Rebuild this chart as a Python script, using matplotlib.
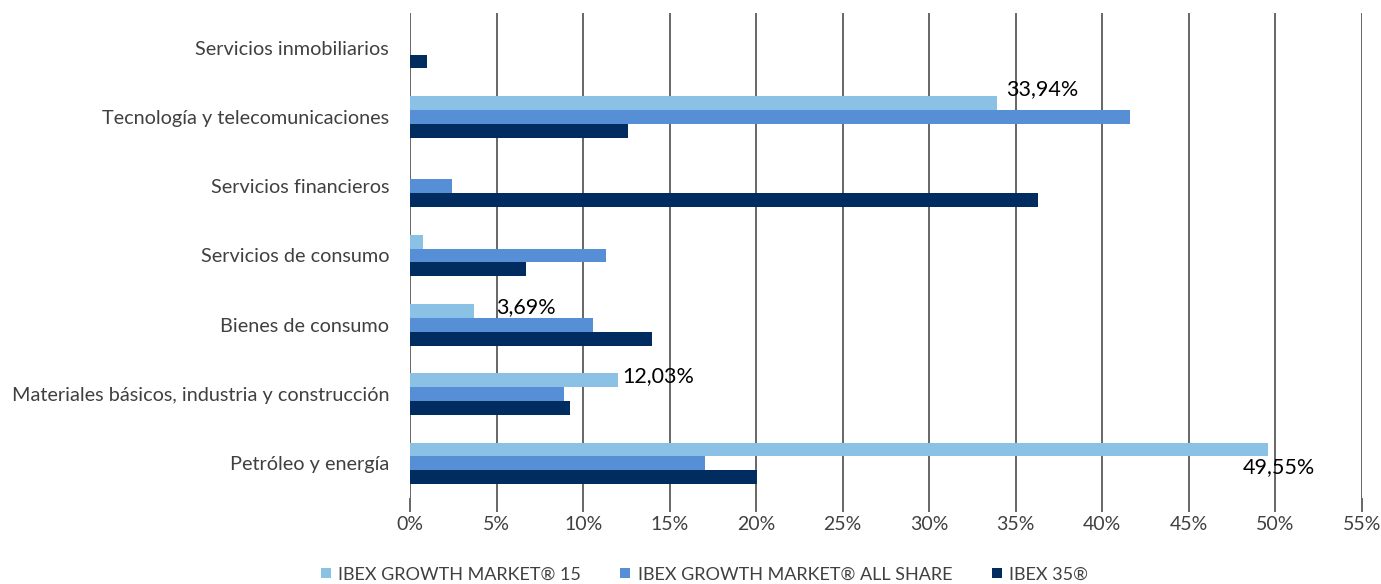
import matplotlib.pyplot as plt
import numpy as np

plt.rcParams['font.family'] = ['Lato', 'DejaVu Sans']

# DATA (bottom to top, as drawn)
categories = ["Petróleo y energía",
              "Materiales básicos, industria y construcción",
              "Bienes de consumo",
              "Servicios de consumo",
              "Servicios financieros",
              "Tecnología y telecomunicaciones",
              "Servicios inmobiliarios"]
growth15  = [49.55, 12.03, 3.69, 0.75, 0.0, 33.94, 0.0]
allshare  = [17.05, 8.9, 10.6, 11.3, 2.4, 41.6, 0.0]
ibex35    = [20.05, 9.25, 14.0, 6.7, 36.3, 12.6, 1.0]
series_names = ["IBEX GROWTH MARKET® 15", "IBEX GROWTH MARKET® ALL SHARE", "IBEX 35®"]
xticks = [0, 5, 10, 15, 20, 25, 30, 35, 40, 45, 50, 55]

c_light = '#8BC1E5'
c_mid = '#568FD6'
c_dark = '#002C5F'
grid_c = '#5A5A5A'
txt_c = '#404040'

fig = plt.figure(figsize=(13.81, 5.84), dpi=100)
ax = fig.add_axes([0.2969, 0.1473, 0.6893, 0.8304])

y = np.arange(len(categories))
h = 0.2
b1 = ax.barh(y + h, growth15, height=h, color=c_light, label=series_names[0], zorder=3)
b2 = ax.barh(y, allshare, height=h, color=c_mid, label=series_names[1], zorder=3)
b3 = ax.barh(y - h, ibex35, height=h, color=c_dark, label=series_names[2], zorder=3)

ax.set_xlim(0, 55)
ax.set_ylim(-0.5, len(categories) - 0.5)
ax.set_xticks(xticks)
ax.set_xticklabels([f"{t}%" for t in xticks])
ax.set_yticks(y)
ax.set_yticklabels(categories)

ax.grid(axis='x', color=grid_c, linewidth=1.3, zorder=0)
for s in ax.spines.values():
    s.set_visible(False)
ax.tick_params(axis='x', direction='out', length=10, width=1.3, color=grid_c,
               labelsize=14, labelcolor=txt_c, pad=3)
ax.tick_params(axis='y', length=0, labelsize=14.3, labelcolor=txt_c, pad=15)

# data labels for the GROWTH 15 series (manually placed as in the original)
def lab(i, dx, dy, ha='left', va='center'):
    ax.annotate(f"{growth15[i]:.2f}%".replace('.', ','), xy=(growth15[i], i + h),
                xytext=(dx, dy), textcoords='offset points', ha=ha, va=va,
                fontsize=15.5, color='black', zorder=4)

lab(5, 6, 10)
lab(2, 16, 3)
lab(1, 3, 3)
lab(0, 34, -13, ha='right')

leg = fig.legend(handles=[b1, b2, b3], loc='lower center', bbox_to_anchor=(0.51, -0.025),
                 ncol=3, frameon=False, fontsize=13, handlelength=0.55, handleheight=0.55,
                 columnspacing=2.2, handletextpad=0.4)
for t in leg.get_texts():
    t.set_color(txt_c)

fig.savefig("out.png", dpi=100)
